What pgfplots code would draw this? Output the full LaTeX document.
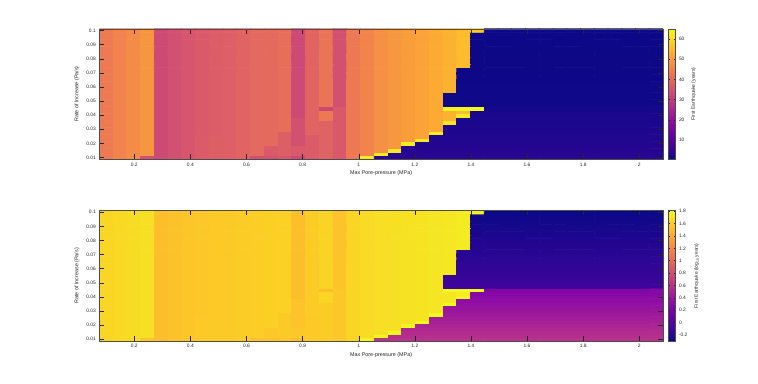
\documentclass[border=0pt]{standalone}
\usepackage{pgfplots}
\pgfplotsset{compat=1.18}
\usepackage{pgfplotstable}
\usepackage{fontspec}
\setmainfont{Liberation Sans}

% First-earthquake time (years); rows bottom (0.01 Pa/s) to top (0.1 Pa/s), 41 columns each (0.1 ... 2.06 MPa)
\pgfplotstableread[row sep=\\]{
v\\
43.7\\45.5\\47\\35\\33.4\\34.7\\36\\37.5\\38\\38.2\\39.2\\34\\35\\36\\33\\37.5\\39\\36.8\\43.4\\63\\
4\\4\\4\\4\\4\\ 4\\4\\4\\4\\4\\ 4\\4\\4\\4\\4\\ 4\\4\\4\\4\\4\\ 4\\
43.7\\45.5\\47\\49\\33.4\\34.7\\36\\37.5\\38\\38.2\\39.2\\40.2\\37\\38\\37\\37.5\\39\\36.8\\43.4\\45.7\\63\\
3.78\\3.78\\3.78\\3.78\\3.78\\ 3.78\\3.78\\3.78\\3.78\\3.78\\ 3.78\\3.78\\3.78\\3.78\\3.78\\ 3.78\\3.78\\3.78\\3.78\\3.78\\
43.7\\45.5\\47\\49\\33.4\\34.7\\36\\37.5\\38\\38.2\\39.2\\40.2\\37\\38\\37\\37.5\\39\\36.8\\43.4\\45.7\\47.9\\63\\
3.57\\3.57\\3.57\\3.57\\3.57\\ 3.57\\3.57\\3.57\\3.57\\3.57\\ 3.57\\3.57\\3.57\\3.57\\3.57\\ 3.57\\3.57\\3.57\\3.57\\
43.7\\45.5\\47\\49\\33.4\\34.7\\36\\37.5\\38\\38.2\\39.2\\40.2\\37\\38\\37\\37.5\\39\\36.8\\43.4\\45.7\\47.9\\49.2\\
3.37\\3.37\\3.37\\3.37\\3.37\\ 3.37\\3.37\\3.37\\3.37\\3.37\\ 3.37\\3.37\\3.37\\3.37\\3.37\\ 3.37\\3.37\\3.37\\3.37\\
43.7\\45.5\\47\\49\\33.4\\34.7\\36\\37.5\\38\\38.2\\39.2\\40.2\\40.5\\38\\35\\37.5\\39\\36.8\\43.4\\45.7\\47.9\\49.2\\63\\
3.18\\3.18\\3.18\\3.18\\3.18\\ 3.18\\3.18\\3.18\\3.18\\3.18\\ 3.18\\3.18\\3.18\\3.18\\3.18\\ 3.18\\3.18\\3.18\\
43.7\\45.5\\47\\49\\33.4\\34.7\\36\\37.5\\38\\38.2\\39.2\\40.2\\40.5\\38\\35\\37.5\\39\\36.8\\43.4\\45.7\\47.9\\49.2\\50.5\\63\\
3.01\\3.01\\3.01\\3.01\\3.01\\ 3.01\\3.01\\3.01\\3.01\\3.01\\ 3.01\\3.01\\3.01\\3.01\\3.01\\ 3.01\\3.01\\
43.7\\45.5\\47\\49\\33.4\\34.7\\36\\37.5\\38\\38.2\\39.2\\40.2\\40.5\\38\\35\\37.5\\39\\36.8\\43.4\\45.7\\47.9\\49.2\\50.5\\51.5\\
2.84\\2.84\\2.84\\2.84\\2.84\\ 2.84\\2.84\\2.84\\2.84\\2.84\\ 2.84\\2.84\\2.84\\2.84\\2.84\\ 2.84\\2.84\\
43.7\\45.5\\47\\49\\33.4\\34.7\\36\\37\\37.6\\38.2\\39.2\\40.2\\40.5\\38\\35\\39.2\\39\\36.8\\43.4\\45.7\\47.9\\49.2\\50.5\\51.5\\63.5\\
2.68\\2.68\\2.68\\2.68\\ 2.68\\2.68\\2.68\\2.68\\ 2.68\\2.68\\2.68\\2.68\\ 2.68\\2.68\\2.68\\2.68\\
43.7\\45.5\\47\\49\\33.4\\34.7\\36\\37\\37.6\\38.2\\39.2\\40.2\\40.5\\41.5\\35\\39.2\\39\\36.8\\43.4\\45.7\\47.9\\49.2\\50.5\\51.5\\52.7\\
2.53\\2.53\\2.53\\2.53\\ 2.53\\2.53\\2.53\\2.53\\ 2.53\\2.53\\2.53\\2.53\\ 2.53\\2.53\\2.53\\2.53\\
43.7\\45.5\\47\\49\\33.4\\34.7\\36\\37\\37.6\\38.2\\39.2\\40.2\\40.5\\41.5\\35\\39.2\\39\\36.8\\43.4\\45.7\\47.9\\49.2\\50.5\\51.5\\52.7\\
2.39\\2.39\\2.39\\2.39\\ 2.39\\2.39\\2.39\\2.39\\ 2.39\\2.39\\2.39\\2.39\\ 2.39\\2.39\\2.39\\2.39\\
43.7\\45.5\\47\\49\\33.4\\34.7\\36\\37\\37.6\\38.2\\39.2\\40.2\\40.5\\41.5\\35\\39.2\\39\\36.8\\43.4\\45.7\\47.9\\49.2\\50.5\\51.5\\52.7\\62\\
2.26\\2.26\\2.26\\2.26\\2.26\\ 2.26\\2.26\\2.26\\2.26\\2.26\\ 2.26\\2.26\\2.26\\2.26\\2.26\\
43.7\\45.5\\47\\49\\33.4\\34.7\\36\\37\\37.6\\38.2\\39.2\\40.2\\40.5\\41.5\\35\\39.2\\43.5\\36.8\\43.4\\45.7\\47.9\\49.2\\50.5\\51.5\\52.7\\54\\
2.13\\2.13\\2.13\\2.13\\2.13\\ 2.13\\2.13\\2.13\\2.13\\2.13\\ 2.13\\2.13\\2.13\\2.13\\2.13\\
43.7\\45.5\\47\\49\\33.4\\34.7\\36\\37\\37.6\\38.2\\39.2\\40.2\\40.5\\41.5\\33.4\\39.2\\43.5\\36.8\\43.4\\45.7\\47.9\\49.2\\50.5\\51.5\\52.7\\54\\63\\
2.02\\2.02\\2.02\\2.02\\2.02\\ 2.02\\2.02\\2.02\\2.02\\2.02\\ 2.02\\2.02\\2.02\\2.02\\
43.7\\45.5\\47\\49\\33.4\\34.7\\36\\37\\37.6\\38.2\\39.2\\40.2\\40.5\\41.5\\33.4\\39.2\\43.5\\36.8\\43.4\\45.7\\47.9\\49.2\\50.5\\51.5\\52.7\\54\\55.6\\
1.9\\1.9\\1.9\\1.9\\1.9\\ 1.9\\1.9\\1.9\\1.9\\1.9\\ 1.9\\1.9\\1.9\\1.9\\
43.7\\45.5\\47\\49\\33.4\\34.7\\36\\37\\37.6\\38.2\\39.2\\40.2\\40.5\\41.5\\33.4\\39.2\\33\\36.8\\43.4\\45.7\\47.9\\49.2\\50.5\\51.5\\52.7\\64\\64.5\\65\\
1.8\\1.8\\1.8\\1.8\\1.8\\ 1.8\\1.8\\1.8\\1.8\\1.8\\ 1.8\\1.8\\1.8\\
43.7\\45.5\\47\\49\\33.4\\34.7\\36\\37\\37.6\\38.2\\39.2\\40.2\\40.5\\41.5\\33.4\\39.2\\42.7\\35\\43.4\\45.7\\47.9\\49.2\\50.5\\51.5\\52.7\\
0.8\\0.8\\0.8\\0.8\\ 0.8\\0.8\\0.8\\0.8\\ 0.8\\0.8\\0.8\\0.8\\ 0.8\\0.8\\0.8\\0.8\\
43.7\\45.5\\47\\49\\33.4\\34.7\\36\\37\\37.6\\38.2\\39.2\\40.2\\40.5\\41.5\\33.4\\39.2\\42.7\\35\\43.4\\45.7\\47.9\\49.2\\50.5\\51.5\\52.7\\
0.78\\0.78\\0.78\\0.78\\ 0.78\\0.78\\0.78\\0.78\\ 0.78\\0.78\\0.78\\0.78\\ 0.78\\0.78\\0.78\\0.78\\
43.7\\45.5\\47\\49\\33.4\\34.7\\36\\37\\37.6\\38.2\\39.2\\40.2\\40.5\\41.5\\33.4\\39.2\\42.7\\35\\43.4\\45.7\\47.9\\49.2\\50.5\\51.5\\52.7\\
0.76\\0.76\\0.76\\0.76\\ 0.76\\0.76\\0.76\\0.76\\ 0.76\\0.76\\0.76\\0.76\\ 0.76\\0.76\\0.76\\0.76\\
43.7\\45.5\\47\\49\\33.4\\34.7\\36\\37\\37.6\\38.2\\39.2\\40.2\\40.5\\41.5\\33.4\\39.2\\42.7\\35\\43.4\\45.7\\47.9\\49.2\\50.5\\51.5\\52.7\\
0.75\\0.75\\0.75\\0.75\\ 0.75\\0.75\\0.75\\0.75\\ 0.75\\0.75\\0.75\\0.75\\ 0.75\\0.75\\0.75\\0.75\\
43.7\\45.5\\47\\49\\33.4\\34.7\\36\\37\\37.6\\38.2\\39.2\\40.2\\40.5\\41.5\\33.4\\39.2\\42.7\\35\\43.4\\45.7\\47.9\\49.2\\50.5\\51.5\\52.7\\54\\
0.73\\0.73\\0.73\\0.73\\0.73\\ 0.73\\0.73\\0.73\\0.73\\0.73\\ 0.73\\0.73\\0.73\\0.73\\0.73\\
43.7\\45.5\\47\\49\\33.4\\34.7\\36\\37\\37.6\\38.2\\39.2\\40.2\\40.5\\41.5\\33.4\\39.2\\42.7\\35\\43.4\\45.7\\47.9\\49.2\\50.5\\51.5\\52.7\\54\\
0.71\\0.71\\0.71\\0.71\\0.71\\ 0.71\\0.71\\0.71\\0.71\\0.71\\ 0.71\\0.71\\0.71\\0.71\\0.71\\
43.7\\45.5\\47\\49\\33.4\\34.7\\36\\37\\37.6\\38.2\\39.2\\40.2\\40.5\\41.5\\33.4\\39.2\\42.7\\35\\43.4\\45.7\\47.9\\49.2\\50.5\\51.5\\52.7\\54\\
0.7\\0.7\\0.7\\0.7\\0.7\\ 0.7\\0.7\\0.7\\0.7\\0.7\\ 0.7\\0.7\\0.7\\0.7\\0.7\\
43.7\\45.5\\47\\49\\33.4\\34.7\\36\\37\\37.6\\38.2\\39.2\\40.2\\40.5\\41.5\\33.4\\39.2\\42.7\\35\\43.4\\45.7\\47.9\\49.2\\50.5\\51.5\\52.7\\54\\
0.68\\0.68\\0.68\\0.68\\0.68\\ 0.68\\0.68\\0.68\\0.68\\0.68\\ 0.68\\0.68\\0.68\\0.68\\0.68\\
43.7\\45.5\\47\\49\\33.4\\34.7\\36\\37\\37.6\\38.2\\39.2\\40.2\\40.5\\41.5\\33.4\\39.2\\42.7\\35\\43.4\\45.7\\47.9\\49.2\\50.5\\51.5\\52.7\\54\\
0.67\\0.67\\0.67\\0.67\\0.67\\ 0.67\\0.67\\0.67\\0.67\\0.67\\ 0.67\\0.67\\0.67\\0.67\\0.67\\
43.7\\45.5\\47\\49\\33.4\\34.7\\36\\37\\37.6\\38.2\\39.2\\40.2\\40.5\\41.5\\33.4\\39.2\\42.7\\35\\43.4\\45.7\\47.9\\49.2\\50.5\\51.5\\52.7\\54\\
0.65\\0.65\\0.65\\0.65\\0.65\\ 0.65\\0.65\\0.65\\0.65\\0.65\\ 0.65\\0.65\\0.65\\0.65\\0.65\\
43.7\\45.5\\47\\49\\33.4\\34.7\\36\\37\\37.6\\38.2\\39.2\\40.2\\40.5\\41.5\\33.4\\39.2\\42.7\\35\\43.4\\45.7\\47.9\\49.2\\50.5\\51.5\\52.7\\54\\
0.64\\0.64\\0.64\\0.64\\0.64\\ 0.64\\0.64\\0.64\\0.64\\0.64\\ 0.64\\0.64\\0.64\\0.64\\0.64\\
43.7\\45.5\\47\\49\\33.4\\34.7\\36\\37\\37.6\\38.2\\39.2\\40.2\\40.5\\41.5\\33.4\\39.2\\42.7\\35\\43.4\\45.7\\47.9\\49.2\\50.5\\51.5\\52.7\\54\\55.6\\
0.63\\0.63\\0.63\\0.63\\0.63\\ 0.63\\0.63\\0.63\\0.63\\0.63\\ 0.63\\0.63\\0.63\\0.63\\
43.7\\45.5\\47\\49\\33.4\\34.7\\36\\37\\37.6\\38.2\\39.2\\40.2\\40.5\\41.5\\33.4\\39.2\\42.7\\35\\43.4\\45.7\\47.9\\49.2\\50.5\\51.5\\52.7\\54\\55.6\\
0.61\\0.61\\0.61\\0.61\\0.61\\ 0.61\\0.61\\0.61\\0.61\\0.61\\ 0.61\\0.61\\0.61\\0.61\\
43.7\\45.5\\47\\49\\33.4\\34.7\\36\\37\\37.6\\38.2\\39.2\\40.2\\40.5\\41.5\\33.4\\39.2\\42.7\\35\\43.4\\45.7\\47.9\\49.2\\50.5\\51.5\\52.7\\54\\55.6\\
0.6\\0.6\\0.6\\0.6\\0.6\\ 0.6\\0.6\\0.6\\0.6\\0.6\\ 0.6\\0.6\\0.6\\0.6\\
43.7\\45.5\\47\\49\\33.4\\34.7\\36\\37\\37.6\\38.2\\39.2\\40.2\\40.5\\41.5\\33.4\\39.2\\42.7\\35\\43.4\\45.7\\47.9\\49.2\\50.5\\51.5\\52.7\\54\\55.6\\
0.58\\0.58\\0.58\\0.58\\0.58\\ 0.58\\0.58\\0.58\\0.58\\0.58\\ 0.58\\0.58\\0.58\\0.58\\
43.7\\45.5\\47\\49\\33.4\\34.7\\36\\37\\37.6\\38.2\\39.2\\40.2\\40.5\\41.5\\33.4\\39.2\\42.7\\35\\43.4\\45.7\\47.9\\49.2\\50.5\\51.5\\52.7\\54\\55.6\\
0.57\\0.57\\0.57\\0.57\\0.57\\ 0.57\\0.57\\0.57\\0.57\\0.57\\ 0.57\\0.57\\0.57\\0.57\\
43.7\\45.5\\47\\49\\33.4\\34.7\\36\\37\\37.6\\38.2\\39.2\\40.2\\40.5\\41.5\\33.4\\39.2\\42.7\\35\\43.4\\45.7\\47.9\\49.2\\50.5\\51.5\\52.7\\54\\55.6\\
0.56\\0.56\\0.56\\0.56\\0.56\\ 0.56\\0.56\\0.56\\0.56\\0.56\\ 0.56\\0.56\\0.56\\0.56\\
43.7\\45.5\\47\\49\\33.4\\34.7\\36\\37\\37.6\\38.2\\39.2\\40.2\\40.5\\41.5\\33.4\\39.2\\42.7\\35\\43.4\\45.7\\47.9\\49.2\\50.5\\51.5\\52.7\\54\\55.6\\
0.55\\0.55\\0.55\\0.55\\0.55\\ 0.55\\0.55\\0.55\\0.55\\0.55\\ 0.55\\0.55\\0.55\\0.55\\
43.7\\45.5\\47\\49\\33.4\\34.7\\36\\37\\37.6\\38.2\\39.2\\40.2\\40.5\\41.5\\33.4\\39.2\\42.7\\35\\43.4\\45.7\\47.9\\49.2\\50.5\\51.5\\52.7\\54\\55.6\\
0.53\\0.53\\0.53\\0.53\\0.53\\ 0.53\\0.53\\0.53\\0.53\\0.53\\ 0.53\\0.53\\0.53\\0.53\\
43.7\\45.5\\47\\49\\33.4\\34.7\\36\\37\\37.6\\38.2\\39.2\\40.2\\40.5\\41.5\\33.4\\39.2\\42.7\\35\\43.4\\45.7\\47.9\\49.2\\50.5\\51.5\\52.7\\54\\55.6\\
0.52\\0.52\\0.52\\0.52\\0.52\\ 0.52\\0.52\\0.52\\0.52\\0.52\\ 0.52\\0.52\\0.52\\0.52\\
43.7\\45.5\\47\\49\\33.4\\34.7\\36\\37\\37.6\\38.2\\39.2\\40.2\\40.5\\41.5\\33.4\\39.2\\42.7\\35\\43.4\\45.7\\47.9\\49.2\\50.5\\51.5\\52.7\\54\\55.6\\
0.51\\0.51\\0.51\\0.51\\0.51\\ 0.51\\0.51\\0.51\\0.51\\0.51\\ 0.51\\0.51\\0.51\\0.51\\
43.7\\45.5\\47\\49\\33.4\\34.7\\36\\37\\37.6\\38.2\\39.2\\40.2\\40.5\\41.5\\33.4\\39.2\\42.7\\35\\43.4\\45.7\\47.9\\49.2\\50.5\\51.5\\52.7\\54\\55.6\\58\\
0.5\\0.5\\0.5\\0.5\\0.5\\ 0.5\\0.5\\0.5\\0.5\\0.5\\ 0.5\\0.5\\0.5\\
}\eqdata

\pgfplotsset{
  colormap={plasma}{rgb255=(13,8,135) rgb255=(65,4,157) rgb255=(106,0,168) rgb255=(143,13,164) rgb255=(177,42,144) rgb255=(204,71,120) rgb255=(225,100,98) rgb255=(242,132,75) rgb255=(252,166,54) rgb255=(252,206,37) rgb255=(240,249,33)},
  /pgf/number format/assume math mode=true,
  heat/.style={
    scale only axis, width=563.7bp, height=130.5bp,
    anchor=south west,
    % matrix plot reverses the y axis, so rates are stored as negative y and labelled positive
    xmin=0.0755, xmax=2.0845, ymin=-0.10125, ymax=-0.00875,
    enlargelimits=false, axis on top,
    colormap name=plasma,
    xtick={0.2,0.4,0.6,0.8,1,1.2,1.4,1.6,1.8,2},
    ytick={-0.1,-0.09,-0.08,-0.07,-0.06,-0.05,-0.04,-0.03,-0.02,-0.01},
    yticklabels={0.1,0.09,0.08,0.07,0.06,0.05,0.04,0.03,0.02,0.01},
    xticklabel style={/pgf/number format/fixed},
    tick label style={font=\fontsize{4.9}{5.5}\selectfont, text=black!85},
    label style={font=\fontsize{5.4}{6}\selectfont, text=black!85},
    xlabel style={yshift=2.5bp},
    xlabel={Max Pore-pressure (MPa)},
    ylabel={Rate of Increase (Pa/s)},
    major tick length=5bp,
    tick style={black!85, line width=0.4bp},
    axis line style={black!70, line width=0.5bp},
    colorbar,
    colorbar style={
      at={(parent axis.north east)}, anchor=north west, xshift=-3.5bp,
      scale only axis, width=7.5bp, height=130.5bp,
      y dir=normal,
      major tick length=2bp,
      tick style={black!85, line width=0.4bp},
      axis line style={black!70, line width=0.5bp},
      yticklabel pos=right, ylabel near ticks,
      yticklabel style={font=\fontsize{4.9}{5.5}\selectfont, text=black!85, /pgf/number format/fixed},
      ylabel style={font=\fontsize{4.9}{5.5}\selectfont, text=black!85},
    },
  },
  cells/.style={matrix plot, y dir=normal, mesh/cols=41, faceted color=mapped color, line width=0.6bp},
}

\begin{document}
\begin{tikzpicture}
\path[use as bounding box] (0bp,0bp) rectangle (758bp,384bp);
\begin{axis}[heat, at={(99.3bp,224.7bp)},
  point meta min=0.5, point meta max=65,
  colorbar style={ytick={10,20,30,40,50,60}, ylabel={First Earthquake (years)}}]
\addplot[cells, point meta=explicit]
  table[x index=0, y index=0, meta index=0,
        x expr={0.1+0.049*(\coordindex-41*floor((\coordindex+0.5)/41))},
        y expr={-(0.01+0.0025*floor((\coordindex+0.5)/41))}] {\eqdata};
\end{axis}
\begin{axis}[heat, at={(99.3bp,43bp)},
  point meta min=-0.301, point meta max=1.813,
  colorbar style={ytick={-0.2,0,0.2,0.4,0.6,0.8,1,1.2,1.4,1.6,1.8},
    ylabel={First Earthquake (log\textsubscript{10} years)}}]
\addplot[cells, point meta={log10(\thisrow{v})}]
  table[x index=0, y index=0,
        x expr={0.1+0.049*(\coordindex-41*floor((\coordindex+0.5)/41))},
        y expr={-(0.01+0.0025*floor((\coordindex+0.5)/41))}] {\eqdata};
\end{axis}
\end{tikzpicture}
\end{document}
